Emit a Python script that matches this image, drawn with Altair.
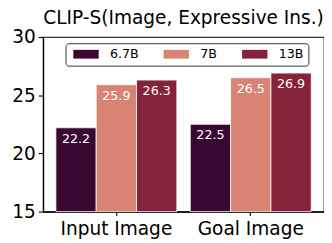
import altair as alt
import pandas as pd

categories = ["Input Image", "Goal Image"]
models = ["6.7B", "7B", "13B"]
input_vals = [22.2, 25.9, 26.3]
goal_vals = [22.5, 26.5, 26.9]
colors = ["#3a0730", "#d88373", "#86233a"]
y_ticks = [15, 20, 25, 30]

rows = []
for cat, vals in zip(categories, [input_vals, goal_vals]):
    for m, v in zip(models, vals):
        rows.append({"category": cat, "model": m, "value": v})
df = pd.DataFrame(rows)

x_enc = alt.X("category:N", sort=categories,
              scale=alt.Scale(paddingInner=0.1, paddingOuter=0.095),
              axis=alt.Axis(title=None, labelAngle=0, tickSize=4, labelPadding=4))
xo_enc = alt.XOffset("model:N", sort=models, scale=alt.Scale(paddingInner=0, paddingOuter=0))
y_enc = alt.Y("value:Q", scale=alt.Scale(domain=[15, 30], zero=False, nice=False),
              axis=alt.Axis(title=None, values=y_ticks, tickSize=5, labelPadding=3, grid=False))

base = alt.Chart(df)

bars = base.mark_bar(stroke="white", strokeWidth=0.8).encode(
    x=x_enc,
    xOffset=xo_enc,
    y=y_enc,
    y2=alt.datum(15),
    color=alt.Color("model:N", sort=models,
                    scale=alt.Scale(domain=models, range=colors),
                    legend=alt.Legend(
                        title=None, orient="none", legendX=23, legendY=6.4,
                        direction="horizontal", columns=3, gridAlign="each",
                        symbolType="M-0.667,-1H5.11V1H-0.667Z", symbolSize=81,
                        symbolStrokeWidth=0, labelFontSize=13, labelOffset=28,
                        columnPadding=21.5, padding=4.5, strokeColor="#333333",
                        cornerRadius=3, fillColor="white", labelColor="black")),
)

labels = base.mark_text(baseline="alphabetic", dy=15.3, color="white", fontSize=13).encode(
    x=x_enc,
    xOffset=xo_enc,
    y=y_enc,
    text=alt.Text("value:Q", format=".1f"),
)

chart = alt.layer(bars, labels).properties(
    width=288, height=179,
    title=alt.TitleParams("CLIP-S(Image, Expressive Ins.)", fontSize=19, fontWeight="normal",
                          anchor="middle", frame="group", offset=0.5,
                          color="black", font="DejaVu Sans"),
    padding={"left": 3, "top": -2.2, "right": 0, "bottom": 0},
).configure(font="DejaVu Sans").configure_view(
    stroke="black", strokeWidth=1.25
).configure_axis(
    labelFontSize=19, labelColor="black", tickColor="black", domainColor="black",
    domainWidth=1.25, tickWidth=1.1, labelFont="DejaVu Sans"
).configure_legend(labelFont="DejaVu Sans")

chart.save("out.html", embed_options={"renderer": "svg", "actions": False})
